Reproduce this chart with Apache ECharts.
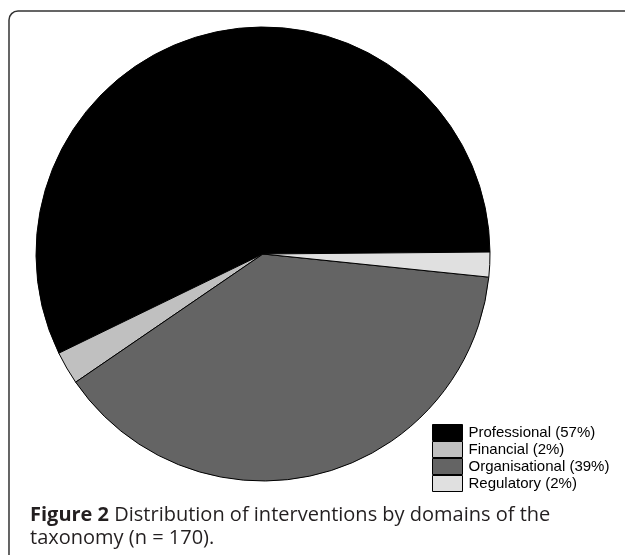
<!DOCTYPE html>
<html>
<head>
<meta charset="utf-8">
<script src="https://cdn.jsdelivr.net/npm/echarts@6/dist/echarts.min.js"></script>
<style>
  html, body { margin: 0; padding: 0; background: #fff; }
  #chart { width: 625px; height: 555px; }
</style>
</head>
<body>
<div id="chart"></div>
<script>
// domains of the taxonomy, counts out of n = 170
const domains = ["Professional", "Financial", "Organisational", "Regulatory"];
const counts = [97, 4, 66, 3];
const pctLabels = ["57%", "2%", "39%", "2%"];
const sliceColors = ["#000000", "#c0c0c0", "#646464", "#e0e0e0"];

const legendNames = domains.map((d, i) => `${d} (${pctLabels[i]})`);

const chart = echarts.init(document.getElementById("chart"));

const option = {
  animation: false,
  title: {
    left: 25,
    top: 499,
    text: "{b|Figure 2} Distribution of interventions by domains of the\ntaxonomy (n = 170).",
    textStyle: {
      fontFamily: "Open Sans",
      fontSize: 20,
      fontWeight: "normal",
      color: "#231f20",
      lineHeight: 23,
      rich: {
        b: { fontFamily: "Open Sans", fontSize: 20, fontWeight: "bold", color: "#231f20", lineHeight: 23 }
      }
    }
  },
  legend: {
    orient: "vertical",
    left: 432,
    top: 424,
    padding: 0,
    itemWidth: 30,
    itemHeight: 16,
    itemGap: 0,
    icon: "rect",
    selectedMode: false,
    data: legendNames,
    itemStyle: { borderColor: "#000", borderWidth: 1 },
    textStyle: { fontFamily: "Liberation Sans", fontSize: 15, color: "#000", lineHeight: 16, padding: [0, 0, 0, 1] }
  },
  graphic: [
    {
      type: "rect",
      shape: { x: 9, y: 11, width: 700, height: 620, r: 9 },
      style: { fill: "none", stroke: "#333", lineWidth: 1.5 },
      z: -1
    }
  ],
  series: [
    {
      type: "pie",
      center: [263, 254],
      radius: 227,
      startAngle: 0.5,
      clockwise: false,
      label: { show: false },
      labelLine: { show: false },
      emphasis: { disabled: true },
      itemStyle: { borderColor: "#000", borderWidth: 1 },
      data: counts.map((v, i) => ({
        name: legendNames[i],
        value: v,
        itemStyle: { color: sliceColors[i] }
      }))
    }
  ]
};

chart.setOption(option);
</script>
</body>
</html>
